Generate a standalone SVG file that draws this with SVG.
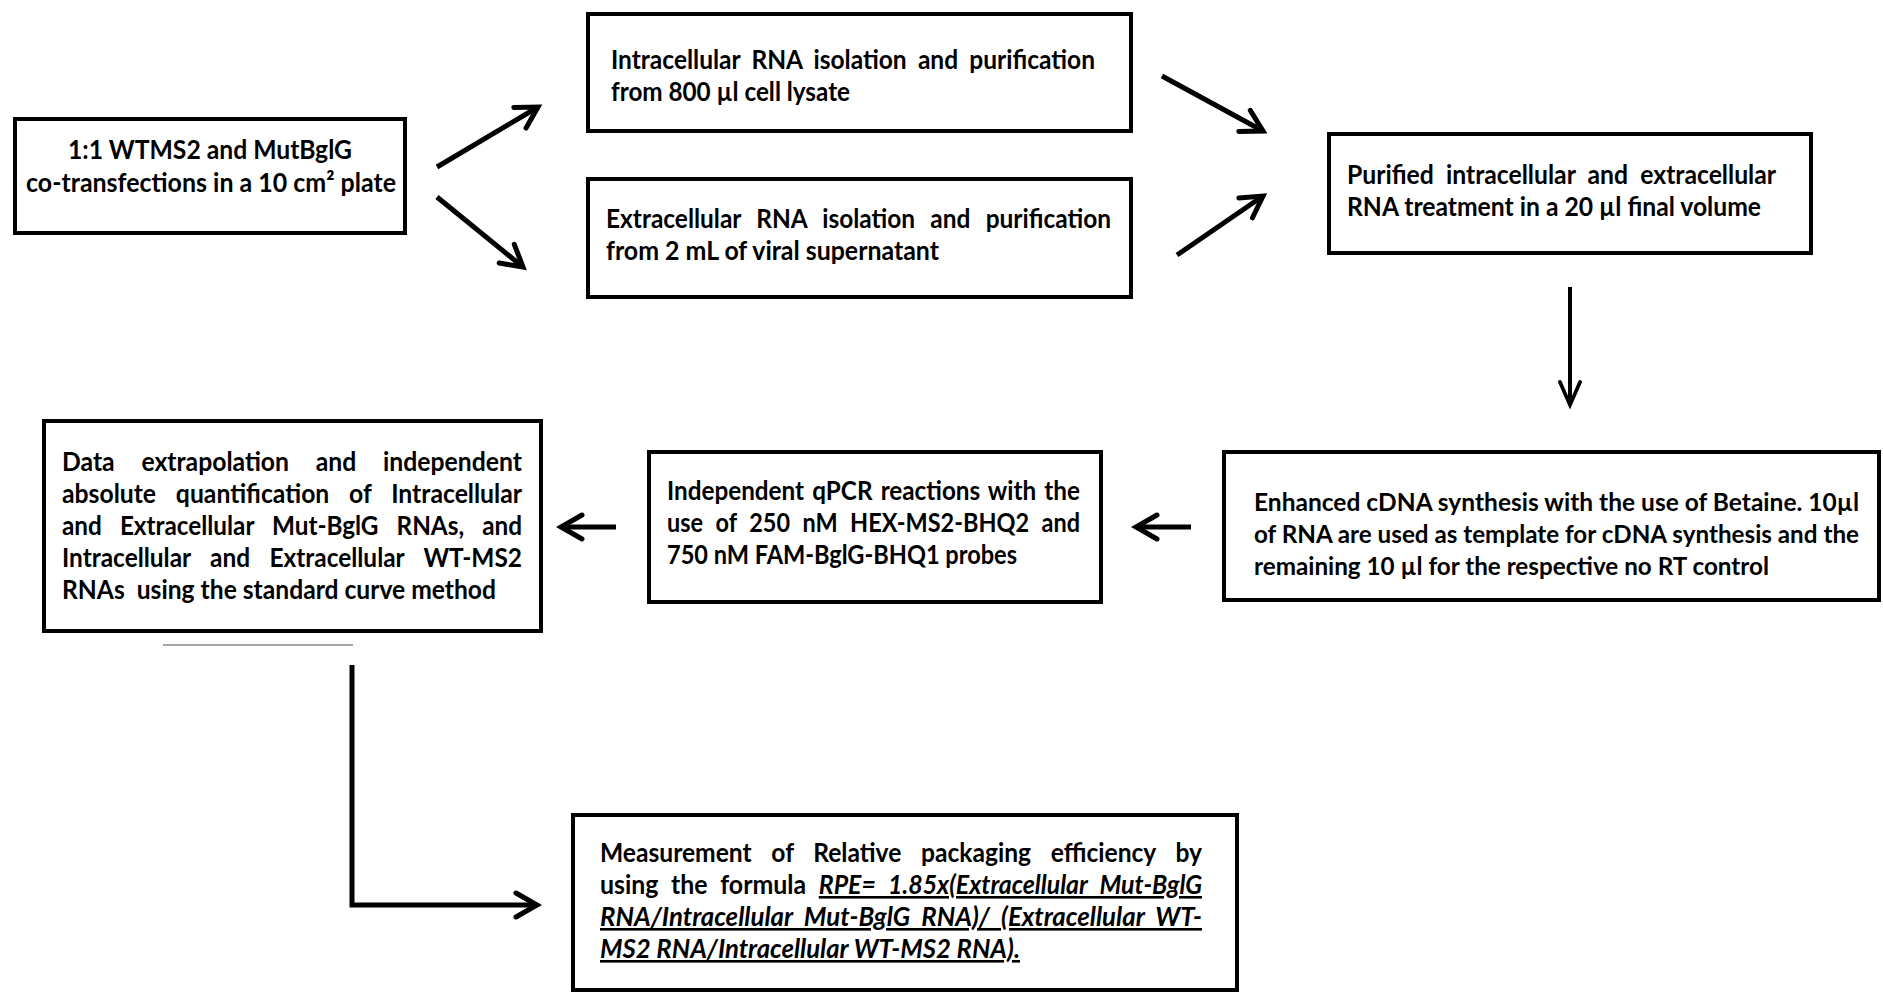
<svg xmlns="http://www.w3.org/2000/svg" width="1883" height="994" viewBox="0 0 1883 994">
<style>
.box{fill:#fff;stroke:#000;stroke-width:4}
.t{font-family:Lato,"Liberation Sans",sans-serif;font-weight:700;font-size:26px;fill:#000}
.s{font-size:25px}
.u{font-style:italic;text-decoration:underline}
.c{stroke:#000;stroke-width:5;fill:none}
</style>
<defs>
<marker id="ah" markerUnits="userSpaceOnUse" markerWidth="50" markerHeight="40" viewBox="-30 -20 50 40" refX="0" refY="0" orient="auto">
<path d="M-21,-12 L0,0 L-21,12" fill="none" stroke="#000" stroke-width="5" stroke-linecap="round" stroke-linejoin="miter"/>
</marker>
<marker id="ah2" markerUnits="userSpaceOnUse" markerWidth="50" markerHeight="40" viewBox="-34 -20 54 40" refX="0" refY="0" orient="auto">
<path d="M-25,-11 L0,0 L-25,11" fill="none" stroke="#000" stroke-width="4" stroke-linecap="round" stroke-linejoin="miter"/>
</marker>
</defs>
<rect width="1883" height="994" fill="#fff"/>

<g id="connectors">
<line class="c" x1="437" y1="167" x2="538" y2="107" marker-end="url(#ah)"/>
<line class="c" x1="437" y1="197" x2="523" y2="267" marker-end="url(#ah)"/>
<line class="c" x1="1162" y1="76" x2="1263" y2="131" marker-end="url(#ah)"/>
<line class="c" x1="1177" y1="255" x2="1263" y2="196" marker-end="url(#ah)"/>
<line class="c" style="stroke-width:4" x1="1570" y1="287" x2="1570" y2="405" marker-end="url(#ah2)"/>
<line class="c" x1="1191" y1="527" x2="1136" y2="527" marker-end="url(#ah)"/>
<line class="c" x1="616" y1="527" x2="561" y2="527" marker-end="url(#ah)"/>
<polyline class="c" points="352,665 352,905 537,905" marker-end="url(#ah)"/>
<line x1="163" y1="645" x2="353" y2="645" stroke="#a6a6a6" stroke-width="2"/>
</g>

<g id="n1">
<rect class="box" x="15" y="119" width="390" height="114"/>
<text class="t" x="210" y="159" text-anchor="middle" textLength="284" lengthAdjust="spacingAndGlyphs">1:1 WTMS2 and MutBglG</text>
<text class="t" x="211" y="192" text-anchor="middle" textLength="370" lengthAdjust="spacingAndGlyphs">co-transfections in a 10 cm² plate</text>
</g>

<g id="n2">
<rect class="box" x="588" y="14" width="543" height="117"/>
<text class="t" x="611" y="69" textLength="484" lengthAdjust="spacingAndGlyphs" word-spacing="5.6">Intracellular RNA isolation and purification</text>
<text class="t" x="611" y="101" textLength="239" lengthAdjust="spacingAndGlyphs">from 800 µl cell lysate</text>
</g>

<g id="n3">
<rect class="box" x="588" y="179" width="543" height="118"/>
<text class="t" x="606" y="228" textLength="505" lengthAdjust="spacingAndGlyphs" word-spacing="9.9">Extracellular RNA isolation and purification</text>
<text class="t" x="606" y="260" textLength="333" lengthAdjust="spacingAndGlyphs">from 2 mL of viral supernatant</text>
</g>

<g id="n4">
<rect class="box" x="1329" y="134" width="482" height="119"/>
<text class="t" x="1347" y="184" textLength="429" lengthAdjust="spacingAndGlyphs" word-spacing="6.5">Purified intracellular and extracellular</text>
<text class="t" x="1347" y="216" textLength="414" lengthAdjust="spacingAndGlyphs">RNA treatment in a 20 µl final volume</text>
</g>

<g id="n5">
<rect class="box" x="1224" y="452" width="655" height="148"/>
<text class="t s" x="1254" y="511" textLength="605" lengthAdjust="spacingAndGlyphs">Enhanced cDNA synthesis with the use of Betaine. 10µl</text>
<text class="t s" x="1254" y="543" textLength="605" lengthAdjust="spacingAndGlyphs">of RNA are used as template for cDNA synthesis and the</text>
<text class="t s" x="1254" y="575" textLength="515" lengthAdjust="spacingAndGlyphs">remaining 10 µl for the respective no RT control</text>
</g>

<g id="n6">
<rect class="box" x="649" y="452" width="452" height="150"/>
<text class="t" x="667" y="500" textLength="413" lengthAdjust="spacingAndGlyphs" word-spacing="2.4">Independent qPCR reactions with the</text>
<text class="t" x="667" y="532" textLength="413" lengthAdjust="spacingAndGlyphs" word-spacing="7.5">use of 250 nM HEX-MS2-BHQ2 and</text>
<text class="t" x="667" y="564" textLength="350" lengthAdjust="spacingAndGlyphs">750 nM FAM-BglG-BHQ1 probes</text>
</g>

<g id="n7">
<rect class="box" x="44" y="421" width="497" height="210"/>
<text class="t" x="62" y="471" textLength="460" lengthAdjust="spacingAndGlyphs" word-spacing="21.8">Data extrapolation and independent</text>
<text class="t" x="62" y="503" textLength="460" lengthAdjust="spacingAndGlyphs" word-spacing="14.5">absolute quantification of Intracellular</text>
<text class="t" x="62" y="535" textLength="460" lengthAdjust="spacingAndGlyphs" word-spacing="13">and Extracellular Mut-BglG RNAs, and</text>
<text class="t" x="62" y="567" textLength="460" lengthAdjust="spacingAndGlyphs" word-spacing="14.3">Intracellular and Extracellular WT-MS2</text>
<text class="t" x="62" y="599" textLength="434" lengthAdjust="spacingAndGlyphs" style="white-space:pre">RNAs  using the standard curve method</text>
</g>

<g id="n8">
<rect class="box" x="573" y="815" width="664" height="175"/>
<text class="t" x="600" y="862" textLength="602" lengthAdjust="spacingAndGlyphs" word-spacing="14.5">Measurement of Relative packaging efficiency by</text>
<text class="t" x="600" y="894" textLength="602" lengthAdjust="spacingAndGlyphs" word-spacing="6.9">using the formula <tspan class="u">RPE= 1.85x(Extracellular Mut-BglG</tspan></text>
<text class="t u" x="600" y="926" textLength="602" lengthAdjust="spacingAndGlyphs" word-spacing="5.5">RNA/Intracellular Mut-BglG RNA)/ (Extracellular WT-</text>
<text class="t u" x="600" y="958" textLength="420" lengthAdjust="spacingAndGlyphs">MS2 RNA/Intracellular WT-MS2 RNA).</text>
</g>
</svg>
